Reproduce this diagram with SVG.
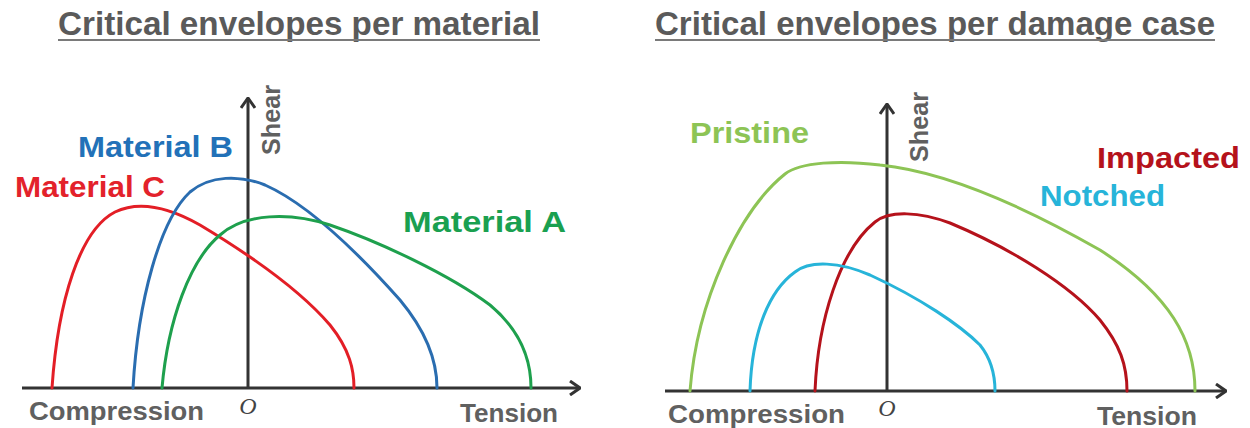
<svg xmlns="http://www.w3.org/2000/svg" width="1250" height="428" viewBox="0 0 1250 428">
<style>
.title{font-family:"Liberation Sans",Arial,sans-serif;font-weight:bold;font-size:33px;fill:#5a5a5a}
.ul{stroke:#7a7a7a;stroke-width:2}
.lbl{font-family:"Liberation Sans",Arial,sans-serif;font-weight:bold;font-size:29px}
.ax{font-family:"Liberation Sans",Arial,sans-serif;font-weight:bold;font-size:25px;fill:#606060}
.org{font-family:"Liberation Serif",serif;font-style:italic;font-size:24px;fill:#444}
.axis{stroke:#333;stroke-width:3;fill:none}
.crv{fill:none;stroke-width:3;stroke-linecap:round}
</style>
<defs>
<marker id="arr" viewBox="0 0 12 16" refX="11" refY="8" markerWidth="12" markerHeight="16" markerUnits="userSpaceOnUse" orient="auto">
<path d="M1,1 L11,8 L1,15" fill="none" stroke="#333" stroke-width="3" stroke-linejoin="miter"/>
</marker>
</defs>
<rect width="1250" height="428" fill="#fff"/>
<g id="title-left">
<text class="title" x="58" y="35" textLength="482" lengthAdjust="spacingAndGlyphs">Critical envelopes per material</text>
<line class="ul" x1="58" y1="40" x2="540" y2="40"/>
</g>
<g id="title-right">
<text class="title" x="655" y="35" textLength="560" lengthAdjust="spacingAndGlyphs">Critical envelopes per damage case</text>
<line class="ul" x1="655" y1="40" x2="1215" y2="40"/>
</g>
<g id="connectors">
<path class="axis" d="M22,388 H580" marker-end="url(#arr)"/>
<path class="axis" d="M248,388 V98" marker-end="url(#arr)"/>
<path class="axis" d="M665,391 H1226" marker-end="url(#arr)"/>
<path class="axis" d="M887,391 V104" marker-end="url(#arr)"/>
</g>
<g id="curve-material-c"><path class="crv" stroke="#e31e26" d="M52,388 C58,300 80,230 115,212 C140,200 170,208 200,225 C250,255 300,290 330,325 C350,350 354,370 354,388"/></g>
<g id="curve-material-b"><path class="crv" stroke="#2a6db0" d="M133,388 C138,300 160,220 190,192 C210,175 240,175 265,185 C310,205 360,255 400,300 C425,330 437,360 437,388"/></g>
<g id="curve-material-a"><path class="crv" stroke="#1ea04d" d="M162,388 C168,320 190,260 220,235 C245,213 290,212 330,225 C380,242 450,275 490,305 C520,330 531,360 531,388"/></g>
<g id="curve-pristine"><path class="crv" stroke="#8dc455" d="M690,391 C697,300 740,210 785,174 C800,162 840,160 880,165 C950,172 1030,210 1100,250 C1170,295 1195,340 1195,391"/></g>
<g id="curve-impacted"><path class="crv" stroke="#b5121b" d="M815,391 C818,320 840,250 875,222 C890,210 920,212 950,223 C1010,248 1070,285 1100,320 C1120,345 1127,365 1127,391"/></g>
<g id="curve-notched"><path class="crv" stroke="#27b4d9" d="M750,391 C752,330 770,290 795,272 C810,260 840,262 870,275 C920,298 960,325 980,345 C992,360 995,375 995,391"/></g>
<g id="label-material-b"><text class="lbl" fill="#2271b8" x="78" y="157" textLength="155" lengthAdjust="spacingAndGlyphs">Material B</text></g>
<g id="label-material-c"><text class="lbl" fill="#e3222b" x="15" y="197" textLength="150" lengthAdjust="spacingAndGlyphs">Material C</text></g>
<g id="label-material-a"><text class="lbl" fill="#1aa050" x="403" y="232" textLength="163" lengthAdjust="spacingAndGlyphs">Material A</text></g>
<g id="label-pristine"><text class="lbl" fill="#8dc455" x="690" y="143" textLength="119" lengthAdjust="spacingAndGlyphs">Pristine</text></g>
<g id="label-impacted"><text class="lbl" fill="#b5121b" x="1097" y="168" textLength="143" lengthAdjust="spacingAndGlyphs">Impacted</text></g>
<g id="label-notched"><text class="lbl" fill="#27b4d9" x="1040" y="206" textLength="125" lengthAdjust="spacingAndGlyphs">Notched</text></g>
<g id="axis-labels-left">
<text class="ax" transform="translate(280,155) rotate(-90)" textLength="70" lengthAdjust="spacingAndGlyphs">Shear</text>
<text class="ax" x="29" y="420" textLength="175" lengthAdjust="spacingAndGlyphs">Compression</text>
<text class="ax" x="460" y="422" textLength="98" lengthAdjust="spacingAndGlyphs">Tension</text>
<text class="org" x="248" y="414" text-anchor="middle">O</text>
</g>
<g id="axis-labels-right">
<text class="ax" transform="translate(928,162) rotate(-90)" textLength="70" lengthAdjust="spacingAndGlyphs">Shear</text>
<text class="ax" x="668" y="423" textLength="177" lengthAdjust="spacingAndGlyphs">Compression</text>
<text class="ax" x="1097" y="425" textLength="100" lengthAdjust="spacingAndGlyphs">Tension</text>
<text class="org" x="887" y="416" text-anchor="middle">O</text>
</g>
</svg>
